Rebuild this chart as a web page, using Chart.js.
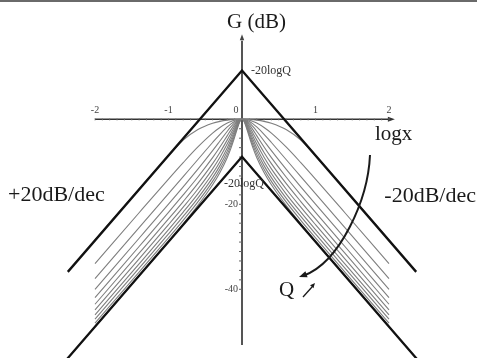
<!DOCTYPE html>
<html>
<head>
<meta charset="utf-8">
<script src="https://cdn.jsdelivr.net/npm/chart.js@4/dist/chart.umd.min.js"></script>
<style>
  html, body { margin: 0; padding: 0; background: #fff; }
  #wrap { width: 477px; height: 358px; position: relative; }
</style>
</head>
<body>
<div id="wrap"><canvas id="c" width="477" height="358"></canvas></div>
<script>
// Distance from resonance in decades (log x); each branch is mirrored about 0
const logOffsets = [0, 0.025, 0.05, 0.1, 0.15, 0.2, 0.3, 0.4, 0.6, 0.8, 1.0, 1.4, 2.0];

// Gain (dB) of the band-pass response for increasing quality factor Q
const gainQ025 = [0, 0, -0.01, -0.05, -0.11, -0.2, -0.48, -0.92, -2.4, -4.9, -8.6, -16.4, -28.4];
const gainQ050 = [0, -0.01, -0.06, -0.23, -0.51, -0.89, -1.93, -3.26, -6.51, -10.2, -14.07, -21.99, -33.98];
const gainQ075 = [0, -0.03, -0.13, -0.5, -1.07, -1.8, -3.53, -5.46, -9.46, -13.48, -17.49, -25.5, -37.5];
const gainQ100 = [0, -0.06, -0.23, -0.85, -1.75, -2.81, -5.1, -7.38, -11.74, -15.89, -19.96, -27.99, -40.0];
const gainQ125 = [0, -0.09, -0.35, -1.26, -2.49, -3.84, -6.52, -9.02, -13.57, -17.79, -21.88, -29.93, -41.94];
const gainQ150 = [0, -0.13, -0.49, -1.72, -3.26, -4.84, -7.8, -10.44, -15.09, -19.35, -23.45, -31.51, -43.52];
const gainQ175 = [0, -0.17, -0.66, -2.2, -4.02, -5.78, -8.94, -11.67, -16.4, -20.68, -24.79, -32.85, -44.86];
const gainQ200 = [0, -0.22, -0.84, -2.7, -4.75, -6.67, -9.97, -12.76, -17.53, -21.83, -25.94, -34.01, -46.02];
const gainQ225 = [0, -0.28, -1.04, -3.21, -5.46, -7.49, -10.9, -13.73, -18.54, -22.85, -26.97, -35.03, -47.04];
const gainQ250 = [0, -0.35, -1.25, -3.71, -6.13, -8.25, -11.75, -14.61, -19.44, -23.76, -27.88, -35.95, -47.96];
const gainQ275 = [0, -0.42, -1.47, -4.2, -6.77, -8.97, -12.52, -15.41, -20.26, -24.58, -28.71, -36.77, -48.79];

// Straight-line asymptotes (+/-20 dB/dec) meeting at -20logQ
const upperAsymX = [-2.37, 0, 2.37];
const upperAsymY = [-35.9, 11.5, -35.9];
const lowerAsymX = [-2.45, 0, 2.45];
const lowerAsymY = [-57.8, -8.8, -57.8];

// Axis tick labels
const xTickValues = [-2, -1, 0, 1, 2];
const xTickLabels = ['-2', '-1', '0', '1', '2'];
const yTickValues = [-20, -40];
const yTickLabels = ['-20', '-40'];

const gainCurves = [gainQ025, gainQ050, gainQ075, gainQ100, gainQ125, gainQ150,
                    gainQ175, gainQ200, gainQ225, gainQ250, gainQ275];

function mirroredPoints(gains) {
  const pts = [];
  for (let i = logOffsets.length - 1; i >= 1; i--) pts.push({ x: -logOffsets[i], y: gains[i] });
  for (let i = 0; i < logOffsets.length; i++) pts.push({ x: logOffsets[i], y: gains[i] });
  return pts;
}
function zipPoints(xs, ys) { return xs.map((v, i) => ({ x: v, y: ys[i] })); }

const datasets = [
  { data: zipPoints(upperAsymX, upperAsymY), borderColor: '#111', borderWidth: 2.3,
    pointRadius: 0, tension: 0, order: 0 },
  { data: zipPoints(lowerAsymX, lowerAsymY), borderColor: '#111', borderWidth: 2.3,
    pointRadius: 0, tension: 0, order: 0 }
];
gainCurves.forEach(g => datasets.push({
  data: mirroredPoints(g), borderColor: '#7e7e7e', borderWidth: 1.1,
  pointRadius: 0, cubicInterpolationMode: 'monotone', order: 1
}));

const SERIF = "'Liberation Serif', 'DejaVu Serif', serif";

function arrowHead(ctx, tipX, tipY, fromX, fromY, len, half) {
  const a = Math.atan2(tipY - fromY, tipX - fromX);
  ctx.beginPath();
  ctx.moveTo(tipX, tipY);
  ctx.lineTo(tipX - len * Math.cos(a) + half * Math.sin(a), tipY - len * Math.sin(a) - half * Math.cos(a));
  ctx.lineTo(tipX - len * Math.cos(a) - half * Math.sin(a), tipY - len * Math.sin(a) + half * Math.cos(a));
  ctx.closePath();
  ctx.fill();
}

const decor = {
  id: 'bodeDecor',
  beforeDatasetsDraw(chart) {
    const { ctx, scales: { x, y } } = chart;
    const X = v => x.getPixelForValue(v), Y = v => y.getPixelForValue(v);
    ctx.save();
    // rule along the top edge
    ctx.strokeStyle = '#6a6a6a';
    ctx.lineWidth = 2;
    ctx.beginPath(); ctx.moveTo(0, 1); ctx.lineTo(chart.width, 1); ctx.stroke();

    // log x axis
    ctx.strokeStyle = '#333'; ctx.fillStyle = '#333';
    ctx.lineWidth = 1.6;
    ctx.beginPath(); ctx.moveTo(X(-2), Y(0)); ctx.lineTo(X(2.02), Y(0)); ctx.stroke();
    arrowHead(ctx, X(2.08), Y(0), X(2), Y(0), 7, 2.5);
    ctx.strokeStyle = '#777';
    ctx.lineWidth = 0.7;
    for (let k = -20; k <= 20; k++) {
      const px = X(k / 10);
      ctx.beginPath(); ctx.moveTo(px, Y(0) - 1.2); ctx.lineTo(px, Y(0) + 1.2); ctx.stroke();
    }

    // gain axis
    ctx.strokeStyle = '#555'; ctx.fillStyle = '#444';
    ctx.lineWidth = 2;
    ctx.beginPath(); ctx.moveTo(X(0), Y(-53.1)); ctx.lineTo(X(0), Y(18.5)); ctx.stroke();
    arrowHead(ctx, X(0), Y(20), X(0), Y(15), 6, 2.2);
    ctx.strokeStyle = '#666';
    ctx.lineWidth = 1;
    for (let k = 1; k <= 18; k++) {
      const py = Y(-k * 20 / 9);
      ctx.beginPath(); ctx.moveTo(X(0) - 3, py); ctx.lineTo(X(0), py); ctx.stroke();
    }
    ctx.restore();
  },
  afterDatasetsDraw(chart) {
    const { ctx, scales: { x, y } } = chart;
    const X = v => x.getPixelForValue(v), Y = v => y.getPixelForValue(v);
    ctx.save();
    ctx.textBaseline = 'middle';

    // tick labels
    ctx.fillStyle = '#444';
    ctx.font = `10px ${SERIF}`;
    ctx.textAlign = 'center';
    xTickValues.forEach((v, i) => {
      const off = v === 0 ? -6 : 0;
      ctx.fillText(xTickLabels[i], X(v) + off, Y(0) - 8.5);
    });
    ctx.textAlign = 'right';
    yTickValues.forEach((v, i) => ctx.fillText(yTickLabels[i], X(0) - 4, Y(v)));

    // apex labels
    ctx.fillStyle = '#333';
    ctx.font = `12px ${SERIF}`;
    ctx.textAlign = 'left';
    ctx.fillText('-20logQ', X(0) + 9, Y(upperAsymY[1]));
    ctx.fillText('-20logQ', X(0) - 18, Y(upperAsymY[1]) + 113);

    // axis titles and slope notes
    ctx.fillStyle = '#1a1a1a';
    ctx.font = `21px ${SERIF}`;
    ctx.textAlign = 'left';
    ctx.fillText('G (dB)', 227, 22);
    ctx.fillText('logx', 375, 134);
    ctx.font = `22px ${SERIF}`;
    ctx.fillText('+20dB/dec', 8, 195);
    ctx.textAlign = 'right';
    ctx.fillText('-20dB/dec', 476, 196);

    // direction of increasing Q
    ctx.textAlign = 'left';
    ctx.font = `21px ${SERIF}`;
    ctx.fillText('Q', 279, 290);
    ctx.strokeStyle = '#1a1a1a'; ctx.fillStyle = '#1a1a1a';
    ctx.lineWidth = 1.3;
    ctx.beginPath(); ctx.moveTo(303, 297); ctx.lineTo(312, 287); ctx.stroke();
    arrowHead(ctx, 315, 283, 303, 297, 5, 2.2);

    ctx.lineWidth = 2;
    ctx.beginPath();
    ctx.moveTo(370, 155);
    ctx.bezierCurveTo(368, 200, 340, 262, 304, 275.5);
    ctx.stroke();
    arrowHead(ctx, 299, 277, 340, 262, 8, 3.2);
    ctx.restore();
  }
};

new Chart(document.getElementById('c'), {
  type: 'line',
  data: { datasets },
  options: {
    responsive: false,
    animation: false,
    devicePixelRatio: 1,
    layout: { padding: 0 },
    plugins: { legend: { display: false }, tooltip: { enabled: false } },
    scales: {
      x: { type: 'linear', min: -242 / 73.5, max: 235 / 73.5, display: false },
      y: { type: 'linear', min: -238.7 / 4.25, max: 119.3 / 4.25, display: false }
    }
  },
  plugins: [decor]
});
</script>
</body>
</html>
